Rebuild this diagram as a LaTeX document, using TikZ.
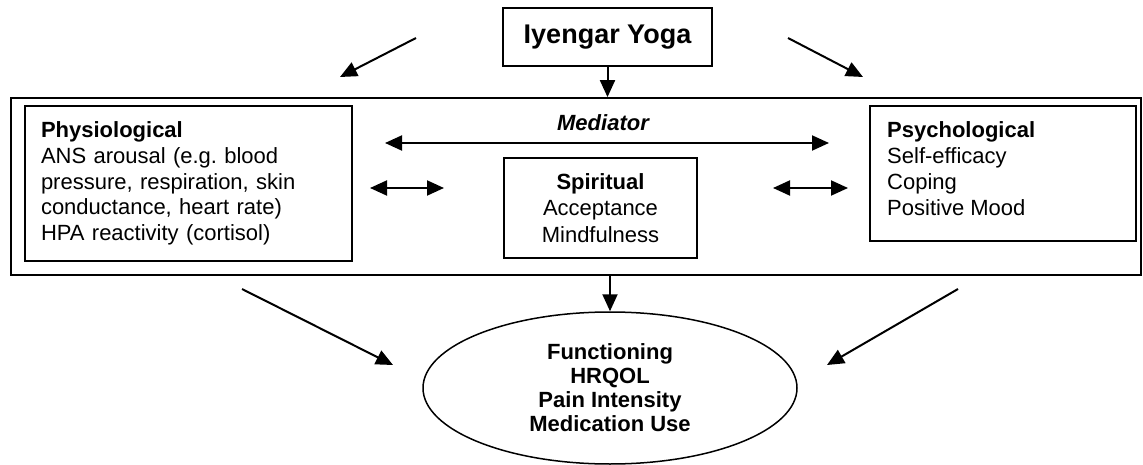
\documentclass[tikz,border=0pt]{standalone}
\usepackage{fontspec}
\setmainfont{Liberation Sans}
\usetikzlibrary{arrows.meta,shapes.geometric}
\frenchspacing
\begin{document}
\begin{tikzpicture}[x=1pt,y=-1pt,
  box/.style={draw,line width=1.8pt,inner sep=0pt},
  arr/.style={line width=2pt,-{Triangle[length=17pt,width=15pt]}},
  darr/.style={line width=2pt,{Triangle[length=17pt,width=15pt]}-{Triangle[length=17pt,width=15pt]}},
  body/.style={font=\fontsize{22}{25.8}\selectfont}
]
\useasboundingbox (0,0) rectangle (1143,465);
\node[box,minimum width=1130pt,minimum height=177pt] (outer) at (576,186.5) {};
\node[box,font=\fontsize{27}{30}\selectfont\bfseries,minimum width=209pt,minimum height=58pt] (yoga) at (607.5,37) {Iyengar Yoga};
\node[box,body,minimum width=327pt,minimum height=155pt,text width=295pt,align=left,inner xsep=16pt] (phys) at (188.5,183.5)
  {\textbf{Physiological}\\ANS arousal (e.g.\ blood\\pressure, respiration, skin\\conductance, heart rate)\\HPA reactivity (cortisol)};
\node[box,minimum width=266pt,minimum height=135pt] (psych) at (1003,173.5) {};
\node[body,align=left,anchor=west,inner sep=0pt] (psychtext) at (887,168.5)
  {\textbf{Psychological}\\Self-efficacy\\Coping\\Positive Mood};
\node[box,font=\fontsize{22}{26.5}\selectfont,minimum width=193pt,minimum height=100pt,align=center] (spir) at (600.5,208)
  {\textbf{Spiritual}\\Acceptance\\Mindfulness};
\node[font=\fontsize{22}{26}\selectfont\bfseries\itshape,inner sep=0pt] (med) at (603,123) {Mediator};
\node[ellipse,draw,line width=1.5pt,minimum width=374pt,minimum height=152pt,inner sep=0pt,align=center,
  font=\fontsize{22}{24}\selectfont\bfseries] (out) at (610,388)
  {Functioning\\HRQOL\\Pain Intensity\\Medication Use};

\coordinate (tl1) at (416,38); \coordinate (tl2) at (340,77);
\coordinate (tr1) at (788,38); \coordinate (tr2) at (863,77);
\coordinate (ml) at (385,143); \coordinate (mr) at (829,143);
\coordinate (dl1) at (370,188); \coordinate (dl2) at (444,188);
\coordinate (dr1) at (773,188); \coordinate (dr2) at (848,188);
\coordinate (bl1) at (242,289); \coordinate (bl2) at (393,365);
\coordinate (br1) at (958,289); \coordinate (br2) at (827,365);

\draw[arr] (tl1) -- (tl2);
\draw[arr] (tr1) -- (tr2);
\draw[arr] (yoga.south) -- (yoga.south |- outer.north);
\draw[darr] (ml) -- (mr);
\draw[darr] (dl1) -- (dl2);
\draw[darr] (dr1) -- (dr2);
\draw[arr] (out.north |- outer.south) -- (out.north);
\draw[arr] (bl1) -- (bl2);
\draw[arr] (br1) -- (br2);
\end{tikzpicture}
\end{document}
